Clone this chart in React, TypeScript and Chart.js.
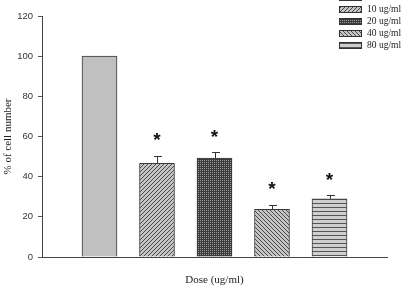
import React, { useEffect, useRef } from "react";
import { Chart, registerables } from "chart.js";

Chart.register(...registerables);

const doses = ["Control", "10 ug/ml", "20 ug/ml", "40 ug/ml", "80 ug/ml"];
const cellPct = [100, 46.7, 49.3, 23.7, 29.0];
const semErr = [0, 3.6, 2.8, 2.3, 1.7];
const significant = [false, true, true, true, true];
const yMin = 0;
const yMax = 120;
const yStep = 20;
const xTitle = "Dose (ug/ml)";
const yTitle = "% of cell number";

function makeTile(w: number, h: number, bg: string, fg: string, pts: [number, number][]) {
  const c = document.createElement("canvas");
  c.width = w;
  c.height = h;
  const g = c.getContext("2d")!;
  g.fillStyle = bg;
  g.fillRect(0, 0, w, h);
  g.fillStyle = fg;
  pts.forEach(([x, y]) => g.fillRect(x, y, 1, 1));
  return g.createPattern(c, "repeat") as CanvasPattern;
}

function makePatterns(): (string | CanvasPattern)[] {
  const solid = "#c0c0c0";
  const fwd = makeTile(4, 4, "#c4c4c4", "#4a4a4a", [[3, 0], [2, 1], [1, 2], [0, 3]]);
  const dots = makeTile(2, 2, "#3c3c3c", "#9a9a9a", [[0, 0]]);
  const back = makeTile(4, 4, "#c4c4c4", "#4a4a4a", [[0, 0], [1, 1], [2, 2], [3, 3]]);
  const horiz = makeTile(1, 4, "#cfcfcf", "#555555", [[0, 3]]);
  return [solid, fwd, dots, back, horiz];
}

export default function App() {
  const ref = useRef<HTMLCanvasElement | null>(null);

  useEffect(() => {
    if (!ref.current) return;
    const fills = makePatterns();

    const extras = {
      id: "extras",
      afterDatasetsDraw(chart: any) {
        const ctx = chart.ctx;
        const ys = chart.scales.y;
        const meta = chart.getDatasetMeta(0);
        ctx.save();
        meta.data.forEach((el: any, i: number) => {
          const top = ys.getPixelForValue(cellPct[i] + semErr[i]);
          if (semErr[i] > 0) {
            ctx.strokeStyle = "#333";
            ctx.lineWidth = 1;
            ctx.beginPath();
            ctx.moveTo(Math.round(el.x) + 0.5, el.y);
            ctx.lineTo(Math.round(el.x) + 0.5, Math.round(top) + 0.5);
            ctx.moveTo(Math.round(el.x) - 3, Math.round(top) + 0.5);
            ctx.lineTo(Math.round(el.x) + 5, Math.round(top) + 0.5);
            ctx.stroke();
          }
          if (significant[i]) {
            ctx.font = "bold 19px 'Liberation Sans'";
            ctx.fillStyle = "#111";
            ctx.textAlign = "center";
            ctx.textBaseline = "alphabetic";
            const m = ctx.measureText("*");
            const cy = top - 19;
            ctx.fillText("*", el.x, cy + (m.actualBoundingBoxAscent - m.actualBoundingBoxDescent) / 2);
          }
        });
        // legend
        const bx = 339;
        const bw = 23;
        const bh = 7;
        doses.forEach((lab, i) => {
          const cy = -3 + i * 12.1;
          ctx.fillStyle = fills[i];
          ctx.fillRect(bx, Math.round(cy - bh / 2), bw, bh);
          ctx.strokeStyle = "#333";
          ctx.lineWidth = 1;
          ctx.strokeRect(bx + 0.5, Math.round(cy - bh / 2) + 0.5, bw - 1, bh - 1);
          ctx.font = "9.5px 'Liberation Serif'";
          ctx.fillStyle = "#222";
          ctx.textAlign = "left";
          ctx.textBaseline = "middle";
          ctx.fillText(lab, 367, cy + 0.5);
        });
        ctx.restore();
      },
    };

    const chart = new Chart(ref.current, {
      type: "bar",
      data: {
        datasets: [
          {
            data: cellPct.map((v, i) => ({ x: i + 1, y: v })),
            backgroundColor: fills as any,
            borderColor: "#3a3a3a",
            borderWidth: 1,
            barThickness: 35,
          },
        ],
      },
      options: {
        responsive: false,
        animation: false,
        devicePixelRatio: 1,
        layout: { padding: { top: 16, right: 16, left: 0, bottom: 0 } },
        plugins: { legend: { display: false }, tooltip: { enabled: false } },
        scales: {
          x: {
            type: "linear",
            offset: false,
            min: 0,
            max: doses.length + 1,
            ticks: { display: false },
            grid: { display: false, offset: false },
            border: { display: true, color: "#444", width: 1 },
            title: {
              display: true,
              text: xTitle,
              font: { family: "'Liberation Serif'", size: 11 },
              color: "#222",
              padding: { top: 0, bottom: 1 },
            },
            afterFit: (s: any) => {
              s.height = 31;
            },
          },
          y: {
            min: yMin,
            max: yMax,
            ticks: {
              stepSize: yStep,
              font: { family: "'Liberation Sans'", size: 9.5 },
              color: "#333",
              padding: 5,
            },
            grid: { drawOnChartArea: false, drawTicks: true, tickLength: 4, color: "#555" },
            border: { display: true, color: "#444", width: 1 },
            title: {
              display: true,
              text: yTitle,
              font: { family: "'Liberation Serif'", size: 11 },
              color: "#222",
              padding: { top: 1.5, bottom: 0 },
            },
            afterFit: (s: any) => {
              s.width = 42;
            },
          },
        },
      },
      plugins: [extras],
    } as any);
    return () => chart.destroy();
  }, []);

  return (
    <div style={{ position: "fixed", left: 0, top: 0, width: 403, height: 288, background: "#fff" }}>
      <canvas ref={ref} width={403} height={288} style={{ display: "block" }} />
    </div>
  );
}
